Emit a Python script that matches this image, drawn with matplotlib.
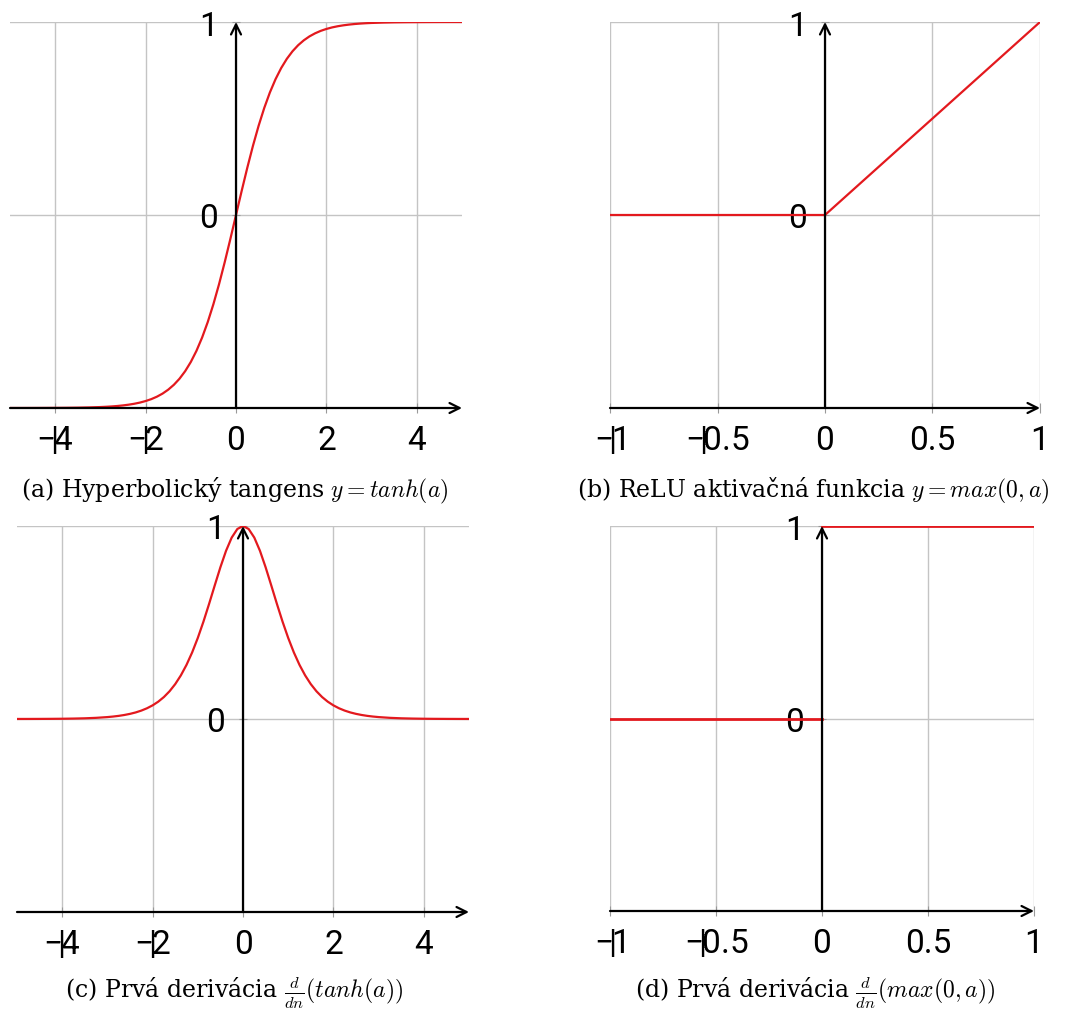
import numpy as np
import matplotlib
matplotlib.use("Agg")
import matplotlib.pyplot as plt
from matplotlib.ticker import FixedLocator, FixedFormatter

plt.rcParams['mathtext.fontset'] = 'cm'
plt.rcParams['font.family'] = ['Roboto', 'DejaVu Sans']

# ---- data ----
# positive half of the tanh panels (tanh is odd, its derivative even); mirrored below
a_pos = [0.0, 0.125, 0.25, 0.375, 0.5, 0.625, 0.75, 0.875, 1.0, 1.125, 1.25, 1.375,
         1.5, 1.625, 1.75, 1.875, 2.0, 2.125, 2.25, 2.375, 2.5, 2.625, 2.75, 2.875,
         3.0, 3.25, 3.5, 3.75, 4.0, 4.25, 4.5, 4.75, 5.0]
tanh_pos = [0.0, 0.1244, 0.2449, 0.3584, 0.4621, 0.5546, 0.6351, 0.7039, 0.7616, 0.8093,
            0.8483, 0.8798, 0.9051, 0.9254, 0.9414, 0.9541, 0.9640, 0.9719, 0.9780,
            0.9828, 0.9866, 0.9896, 0.9919, 0.9937, 0.9951, 0.9970, 0.9982, 0.9989,
            0.9993, 0.9996, 0.9998, 0.9999, 0.9999]
dtanh_pos = [1.0, 0.9845, 0.9400, 0.8716, 0.7864, 0.6924, 0.5966, 0.5045, 0.4200, 0.3450,
             0.2804, 0.2259, 0.1807, 0.1437, 0.1138, 0.0898, 0.0707, 0.0555, 0.0435,
             0.0340, 0.0266, 0.0208, 0.0162, 0.0127, 0.0099, 0.0060, 0.0036, 0.0022,
             0.0013, 0.0008, 0.0005, 0.0003, 0.0002]
relu_x = [-1, 0, 1]
relu_y = [0, 0, 1]
drelu_left_x = [-1, 0]
drelu_left_y = [0, 0]
drelu_right_x = [0, 1]
drelu_right_y = [1, 1]

NEG = '$\\mathregular{-}\\!\\mathregular{|}\\!\\mathregular{%s}$'
tanh_xticks = [-4, -2, 0, 2, 4]
tanh_xlabels = [NEG % '4', NEG % '2', '0', '2', '4']
relu_xticks = [-1, -0.5, 0, 0.5, 1]
relu_xlabels = [NEG % '1', NEG % '0.5', '0', '0.5', '1']
yticks = [0, 1]
ylabels = ['0', '1']

captions = [
    r'(a) Hyperbolický tangens $y = tanh(a)$',
    r'(b) ReLU aktivačná funkcia $y = max(0, a)$',
    r'(c) Prvá derivácia $\frac{d}{dn}(tanh(a))$',
    r'(d) Prvá derivácia $\frac{d}{dn}(max(0, a))$',
]

a_all = np.concatenate([-np.array(a_pos[::-1]), np.array(a_pos[1:])])
tanh_all = np.concatenate([-np.array(tanh_pos[::-1]), np.array(tanh_pos[1:])])
dtanh_all = np.concatenate([np.array(dtanh_pos[::-1]), np.array(dtanh_pos[1:])])

W, H = 1070, 1012
fig = plt.figure(figsize=(W / 100, H / 100), dpi=100)

RED = '#e3191e'
GRID = '#c4c4c4'


def make_ax(x0, x1, ytop, ybot, xlim, xticks, xlabels):
    ax = fig.add_axes([x0 / W, (H - ybot) / H, (x1 - x0) / W, (ybot - ytop) / H])
    ax.set_xlim(*xlim)
    ax.set_ylim(-1, 1)
    for s in ax.spines.values():
        s.set_visible(False)
    ax.spines['left'].set_position(('data', 0))
    ax.spines['bottom'].set_position(('data', -1))
    ax.xaxis.set_major_locator(FixedLocator(xticks))
    ax.xaxis.set_major_formatter(FixedFormatter(xlabels))
    ax.yaxis.set_major_locator(FixedLocator(yticks))
    ax.yaxis.set_major_formatter(FixedFormatter(ylabels))
    ax.tick_params(axis='x', direction='inout', length=7, width=0.8, color='#999999',
                   pad=8, labelsize=24)
    ax.tick_params(axis='y', direction='inout', length=6, width=0.8, color='#999999',
                   pad=10, labelsize=24)
    ax.grid(True, color=GRID, lw=1.0)
    ax.set_axisbelow(True)
    ax.annotate('', xy=(xlim[1], -1), xytext=(xlim[0], -1),
                arrowprops=dict(arrowstyle='->', lw=1.6, color='black',
                                shrinkA=0, shrinkB=0, mutation_scale=18),
                annotation_clip=False, zorder=5)
    ax.annotate('', xy=(0, 1), xytext=(0, -1),
                arrowprops=dict(arrowstyle='->', lw=1.6, color='black',
                                shrinkA=0, shrinkB=0, mutation_scale=18),
                annotation_clip=False, zorder=5)
    return ax


ax_a = make_ax(10, 462, 23, 409, (-5, 5), tanh_xticks, tanh_xlabels)
ax_a.plot(a_all, tanh_all, color=RED, lw=1.6, zorder=3)

ax_b = make_ax(610, 1040, 23, 409, (-1, 1), relu_xticks, relu_xlabels)
ax_b.plot(relu_x, relu_y, color=RED, lw=1.6, zorder=3)

ax_c = make_ax(17, 469, 527, 913, (-5, 5), tanh_xticks, tanh_xlabels)
ax_c.plot(a_all, dtanh_all, color=RED, lw=1.6, zorder=3)

ax_d = make_ax(610, 1034, 527, 912, (-1, 1), relu_xticks, relu_xlabels)
ax_d.plot(drelu_left_x, drelu_left_y, color=RED, lw=2.0, zorder=3)
ax_d.plot(drelu_right_x, drelu_right_y, color=RED, lw=2.0, zorder=3)

cap_pos = [(235, 497), (813, 497), (234, 999), (815, 999)]
for (cx, cy), txt in zip(cap_pos, captions):
    fig.text(cx / W, 1 - cy / H, txt, ha='center', va='baseline', fontsize=17,
             family=['DejaVu Serif'])

fig.savefig('out.png', dpi=100)
